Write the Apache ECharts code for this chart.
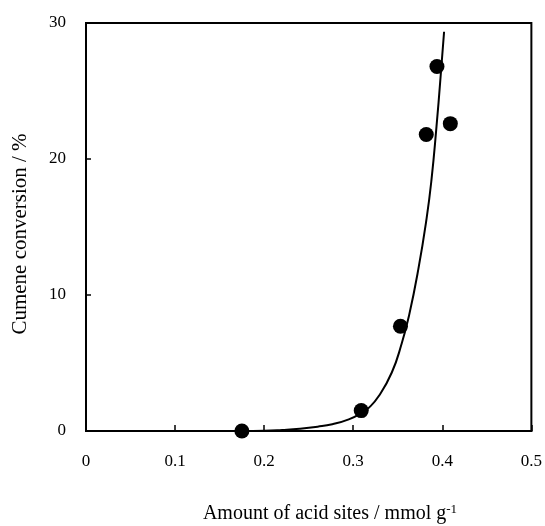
<!DOCTYPE html>
<html>
<head>
<meta charset="utf-8">
<style>
  html, body { margin: 0; padding: 0; background: #fff; }
  #chart { width: 545px; height: 526px; }
</style>
<script src="https://cdn.jsdelivr.net/npm/echarts@6/dist/echarts.min.js"></script>
</head>
<body>
<div id="chart"></div>
<script>
// Measured samples: acid-site amount vs cumene conversion
const acidSites = [0.175, 0.309, 0.353, 0.382, 0.394, 0.409];
const conversion = [0.0, 1.5, 7.7, 21.8, 26.8, 22.6];

// Trend curve through the samples
const curveX = [0.175, 0.200, 0.220, 0.240, 0.260, 0.2765, 0.295, 0.310, 0.3174, 0.3285, 0.3433, 0.3545, 0.3627, 0.3731, 0.3823, 0.3879, 0.3935, 0.3979, 0.4020];
const curveY = [0.0, 0.02, 0.08, 0.17, 0.32, 0.50, 0.85, 1.35, 1.70, 2.55, 4.30, 6.45, 8.5, 11.9, 15.6, 18.5, 22.4, 25.9, 29.36];

const xTicks = [0, 0.1, 0.2, 0.3, 0.4, 0.5];
const yTicks = [0, 10, 20, 30];

const FONT = '"Liberation Serif", "DejaVu Serif", serif';

const chart = echarts.init(document.getElementById('chart'), null, { renderer: 'canvas' });

chart.setOption({
  animation: false,
  backgroundColor: '#fff',
  grid: {
    left: 86, right: 13, top: 23, bottom: 95,
    show: true, borderColor: '#000', borderWidth: 2, backgroundColor: 'transparent'
  },
  xAxis: {
    type: 'value',
    min: xTicks[0], max: xTicks[xTicks.length - 1], interval: 0.1,
    axisLine: { lineStyle: { color: '#000', width: 2 } },
    axisTick: { inside: true, length: 6, lineStyle: { color: '#000', width: 1.5 } },
    splitLine: { show: false },
    axisLabel: {
      color: '#000', fontFamily: FONT, fontSize: 17, margin: 22,
      formatter: v => (Math.round(v * 10) / 10).toString()
    }
  },
  yAxis: {
    type: 'value',
    min: yTicks[0], max: yTicks[yTicks.length - 1], interval: 10,
    axisLine: { lineStyle: { color: '#000', width: 2 } },
    axisTick: { inside: true, length: 5, lineStyle: { color: '#000', width: 1.5 } },
    splitLine: { show: false },
    axisLabel: { color: '#000', fontFamily: FONT, fontSize: 17, margin: 20 }
  },
  series: [
    {
      type: 'line',
      data: curveX.map((x, i) => [x, curveY[i]]),
      smooth: 0.5,
      showSymbol: false,
      lineStyle: { color: '#000', width: 2 },
      z: 2
    },
    {
      type: 'scatter',
      data: acidSites.map((x, i) => [x, conversion[i]]),
      symbol: 'circle',
      symbolSize: 15,
      itemStyle: { color: '#000', opacity: 1 },
      z: 3
    }
  ],
  graphic: [
    {
      type: 'text',
      x: 330, y: 514,
      style: {
        text: '{a|Amount of acid sites / mmol g}{s|-1}',
        align: 'center', verticalAlign: 'middle',
        rich: {
          a: { fontFamily: FONT, fontSize: 20, fill: '#000' },
          s: { fontFamily: FONT, fontSize: 13, fill: '#000', verticalAlign: 'top', padding: [0, 0, 8, 0] }
        }
      }
    },
    {
      type: 'text',
      x: 20, y: 234,
      rotation: Math.PI / 2,
      style: {
        text: 'Cumene conversion / %',
        fontFamily: FONT, fontSize: 21, fill: '#000',
        align: 'center', verticalAlign: 'middle'
      }
    }
  ]
});
</script>
</body>
</html>
